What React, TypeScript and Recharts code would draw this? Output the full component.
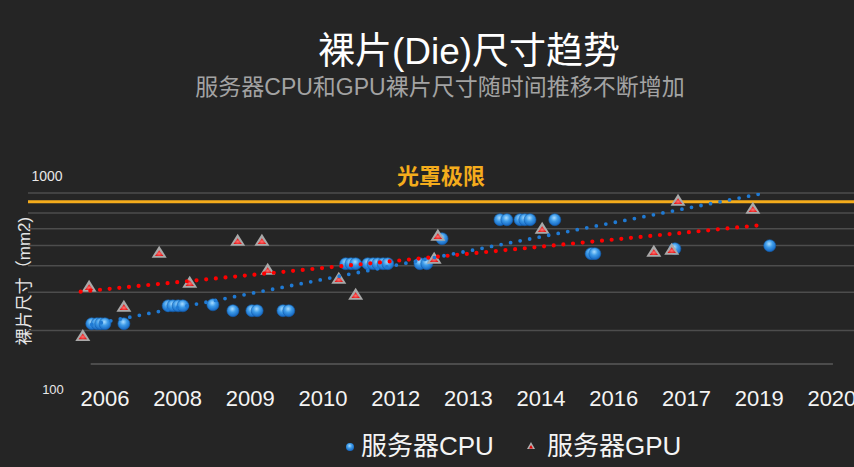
import React from 'react';
import { ScatterChart, Scatter, XAxis, YAxis, ReferenceLine } from 'recharts';

// server CPU die sizes (year, mm2)
const cpuYear = [2006.40, 2006.50, 2006.57, 2006.65, 2007.01, 2007.85, 2007.94, 2008.04, 2008.13, 2008.70, 2009.08, 2009.44, 2009.54, 2010.03, 2010.14, 2011.22, 2011.32, 2011.41, 2011.64, 2011.74, 2011.83, 2011.93, 2012.02, 2012.63, 2012.76, 2013.05, 2014.15, 2014.28, 2014.53, 2014.62, 2014.72, 2015.19, 2015.88, 2015.95, 2017.47, 2019.27];
const cpuSize = [172, 172, 172, 172, 172, 219, 219, 219, 219, 222, 205, 205, 205, 205, 205, 386, 386, 386, 386, 386, 386, 386, 386, 386, 386, 540, 698, 698, 698, 698, 698, 698, 442, 442, 472, 492];

// server GPU die sizes
const gpuYear = [2006.23, 2006.35, 2007.01, 2007.68, 2008.26, 2009.17, 2009.63, 2009.74, 2011.09, 2011.41, 2012.90, 2012.97, 2014.95, 2017.07, 2017.41, 2017.53, 2018.95];
const gpuSize = [146, 283, 216, 448, 299, 526, 526, 356, 315, 254, 413, 563, 618, 454, 466, 902, 809];

// exponential trendlines (straight on log axis)
const cpuTrendYear = [2006.40, 2019.18];
const cpuTrendSize = [170, 1000];
const gpuTrendYear = [2006.19, 2019.20];
const gpuTrendSize = [265, 653];

const xTicks = [2006.65, 2008.03, 2009.41, 2010.79, 2012.17, 2013.55, 2014.93, 2016.31, 2017.69, 2019.07, 2020.45];
const xTickLabels = ['2006', '2008', '2009', '2010', '2012', '2013', '2014', '2016', '2017', '2019', '2020'];
const yTicks = [100, 1000];
const gridValues = [1000, 764, 618, 493, 376, 263, 157];
const reticleLimit = 889;
const baseLine = [2006.38, 2020.47];

const zip = (xs: number[], ys: number[]) => xs.map((x, i) => ({ year: x, size: ys[i] }));

const cpuData = zip(cpuYear, cpuSize);
const gpuData = zip(gpuYear, gpuSize);
const cpuTrend = zip(cpuTrendYear, cpuTrendSize);
const gpuTrend = zip(gpuTrendYear, gpuTrendSize);

const CJK = '"Noto Sans CJK SC", "Noto Sans", sans-serif';
const MIXED = '"Liberation Sans", Arial, "Noto Sans CJK SC", sans-serif';

const CpuDot = (props: any) => {
  const { cx, cy } = props;
  return <circle cx={cx} cy={cy} r={6} fill="url(#cpuGrad)" stroke="#1360b0" strokeWidth={0.6} />;
};

const GpuMark = (props: any) => {
  const { cx, cy } = props;
  return (
    <g>
      <polygon points={`${cx},${cy - 7} ${cx + 7.5},${cy + 5} ${cx - 7.5},${cy + 5}`} fill="#a9a9a9" />
      <polygon points={`${cx},${cy - 2.5} ${cx + 4.2},${cy + 3.3} ${cx - 4.2},${cy + 3.3}`} fill="url(#gpuGrad)" />
    </g>
  );
};

const NoDot = () => <g />;

const XTick = (props: any) => {
  const { x, payload } = props;
  const i = xTicks.indexOf(payload.value);
  return (
    <text x={x} y={398} textAnchor="middle" dominantBaseline="central" fill="#f4f4f4" fontSize={22} fontFamily="Liberation Sans, Arial, sans-serif">
      {xTickLabels[i]}
    </text>
  );
};

const YTick = (props: any) => {
  const { y, payload } = props;
  const top = payload.value === 1000;
  return (
    <text x={top ? 47 : 53} y={top ? y - 17 : y + 25} textAnchor="middle" dominantBaseline="central" fill="#e8e8e8" fontSize={top ? 14 : 13} fontFamily="Liberation Sans, Arial, sans-serif">
      {payload.value}
    </text>
  );
};

export default function App() {
  return (
    <div style={{ position: 'relative', width: 854, height: 467, background: '#252525', overflow: 'hidden' }}>
      <style>{'body{margin:0;background:#252525}'}</style>
      <svg width={0} height={0} style={{ position: 'absolute' }}>
        <defs>
          <radialGradient id="cpuGrad" cx="45%" cy="35%" r="65%">
            <stop offset="0%" stopColor="#a9dcff" />
            <stop offset="45%" stopColor="#3d9be8" />
            <stop offset="100%" stopColor="#1464c0" />
          </radialGradient>
          <radialGradient id="gpuGrad" cx="50%" cy="60%" r="60%">
            <stop offset="0%" stopColor="#ff7070" />
            <stop offset="100%" stopColor="#e00000" />
          </radialGradient>
        </defs>
      </svg>

      <div style={{ position: 'absolute', left: 0, width: 938, top: 28, textAlign: 'center', color: '#ffffff', fontFamily: MIXED, fontSize: 37, lineHeight: '48px' }}>
        裸片(Die)尺寸趋势
      </div>
      <div style={{ position: 'absolute', left: 0, width: 880, top: 72, textAlign: 'center', color: '#a3a3a3', fontFamily: MIXED, fontSize: 23, lineHeight: '30px' }}>
        服务器CPU和GPU裸片尺寸随时间推移不断增加
      </div>
      <div style={{ position: 'absolute', left: 25, top: 281, transform: 'translate(-50%, -50%) rotate(-90deg)', whiteSpace: 'nowrap', color: '#e6e6e6', fontFamily: MIXED, fontSize: 17, lineHeight: '20px' }}>
        裸片尺寸（mm2)
      </div>

      <ScatterChart width={854} height={467} margin={{ top: 193, right: 0, bottom: 63, left: 27 }} style={{ position: 'absolute', left: 0, top: 0 }}>
        <XAxis type="number" dataKey="year" domain={[2005.19, 2020.87]} ticks={xTicks} tick={<XTick />} axisLine={false} tickLine={false} height={40} interval={0} allowDataOverflow />
        <YAxis type="number" dataKey="size" scale="log" domain={[100, 1000]} ticks={yTicks} tick={<YTick />} axisLine={false} tickLine={false} width={1} allowDataOverflow />
        {gridValues.map((v) => (
          <ReferenceLine key={v} y={v} stroke="#4d4d4d" strokeWidth={1.5} />
        ))}
        <ReferenceLine segment={[{ x: baseLine[0], y: 100 }, { x: baseLine[1], y: 100 }]} stroke="#5a5a5a" strokeWidth={1.5} />
        <ReferenceLine
          y={reticleLimit}
          stroke="#f4ac1c"
          strokeWidth={3}
          label={{ value: '光罩极限', position: 'top', offset: 18, fill: '#f4ac1c', fontSize: 22, fontWeight: 700, fontFamily: CJK }}
        />
        <Scatter name="服务器CPU" data={cpuData} shape={<CpuDot />} isAnimationActive={false} />
        <Scatter name="服务器GPU" data={gpuData} shape={<GpuMark />} isAnimationActive={false} />
        <Scatter
          data={gpuTrend}
          shape={<NoDot />}
          line={{ stroke: '#ff0000', strokeWidth: 4.2, strokeDasharray: '0 9.7', strokeLinecap: 'round' }}
          isAnimationActive={false}
        />
        <Scatter
          data={cpuTrend}
          shape={<NoDot />}
          line={{ stroke: '#1f7ad4', strokeWidth: 3.8, strokeDasharray: '0 9.7', strokeLinecap: 'round' }}
          isAnimationActive={false}
        />
      </ScatterChart>

      <div style={{ position: 'absolute', left: 343, top: 431, display: 'flex', alignItems: 'center', fontFamily: MIXED, fontSize: 26, lineHeight: '30px', color: '#f4f4f4' }}>
        <svg width={14} height={14} style={{ marginRight: 4 }}>
          <circle cx={7} cy={8} r={4} fill="url(#cpuGrad)" />
        </svg>
        <span>服务器CPU</span>
        <svg width={14} height={14} style={{ marginLeft: 30, marginRight: 9 }}>
          <polygon points="7,3 11,10 3,10" fill="#b0b0b0" />
          <polygon points="7,6 9,9.5 5,9.5" fill="#e00000" />
        </svg>
        <span>服务器GPU</span>
      </div>
    </div>
  );
}
